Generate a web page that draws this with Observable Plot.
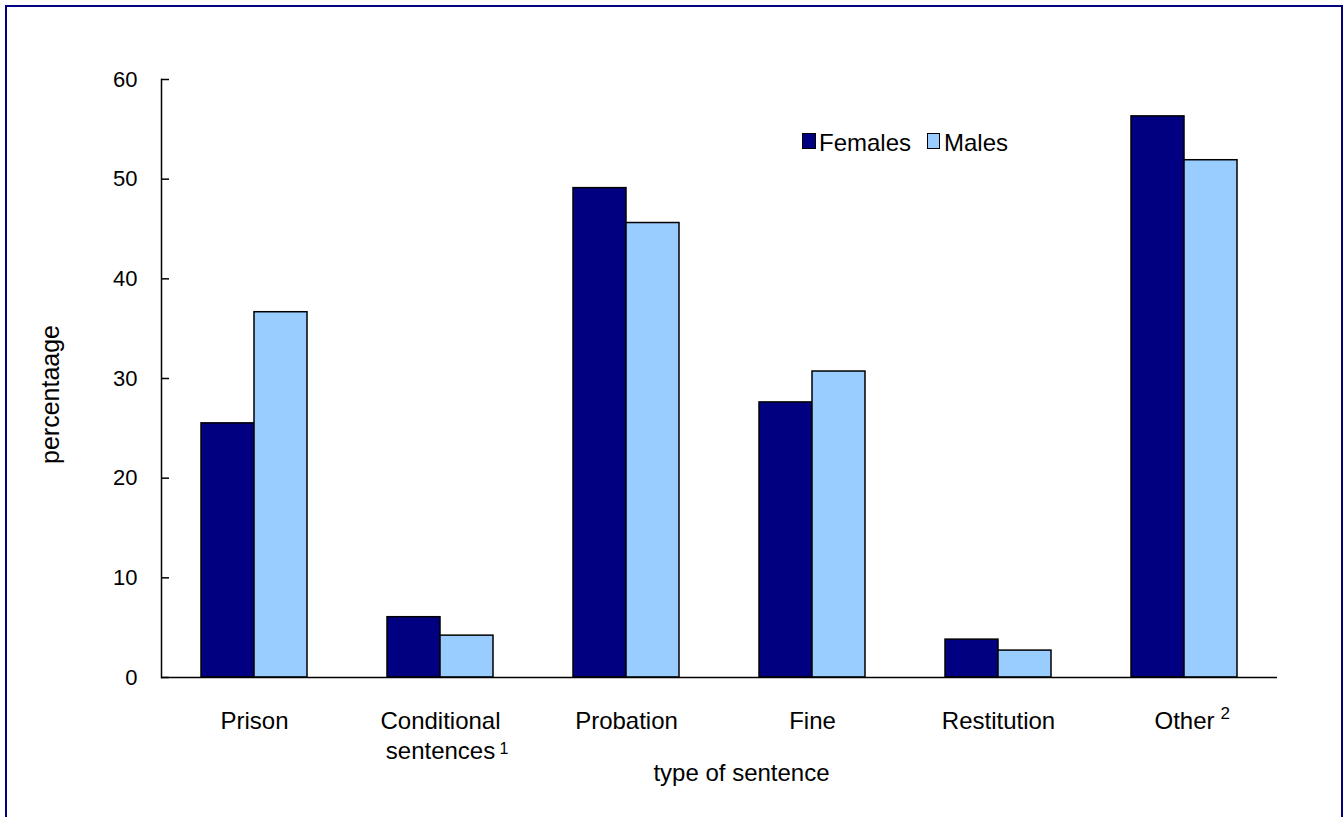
<!DOCTYPE html>
<html>
<head>
<meta charset="utf-8">
<script src="https://cdn.jsdelivr.net/npm/d3@7"></script>
<script src="https://cdn.jsdelivr.net/npm/@observablehq/plot@0.6"></script>
<style>
  html, body { margin: 0; padding: 0; background: #fff; overflow: hidden; }
  #wrap { position: relative; width: 1343px; height: 817px; font-family: "Liberation Sans", Arial, sans-serif; }
  #border { position: absolute; left: 5px; top: 5px; width: 1334px; height: 830px; border: 2px solid #000080; box-sizing: content-box; pointer-events: none; }
  .sw { position: absolute; border: 1.5px solid #000; box-sizing: border-box; }
  .lt { position: absolute; font-size: 24px; line-height: 24px; color: #000; white-space: nowrap; }
</style>
</head>
<body>
<div id="wrap">
  <div id="chart"></div>
  <div id="legend"></div>
  <div id="border"></div>
</div>
<script>
// ---- data ----
const categories = ["Prison", "Conditional sentences", "Probation", "Fine", "Restitution", "Other"];
const labelLine1 = ["Prison", "Conditional", "Probation", "Fine", "Restitution", "Other"];
const labelLine2 = ["", "sentences", "", "", "", ""];
const footnotes = ["", "1", "", "", "", "2"];
const females = [25.5, 6.05, 49.1, 27.6, 3.8, 56.3];
const males = [36.65, 4.2, 45.6, 30.7, 2.7, 51.9];
const series = ["Females", "Males"];
const seriesColors = ["#000080", "#99ccff"];
const yTicks = [0, 10, 20, 30, 40, 50, 60];
const yLabel = "percentaage";
const xLabel = "type of sentence";

const rows = categories.flatMap((c, i) => [
  {category: c, sex: series[0], value: females[i]},
  {category: c, sex: series[1], value: males[i]}
]);
const labels = categories.map((c, i) => ({category: c, line1: labelLine1[i], line2: labelLine2[i], note: footnotes[i]}));

const chart = Plot.plot({
  width: 1343,
  height: 817,
  marginLeft: 160,
  marginRight: 65,
  marginTop: 79,
  marginBottom: 140,
  style: {fontFamily: "'Liberation Sans', Arial, sans-serif", fontSize: "22px", background: "transparent", color: "#000", overflow: "visible"},
  fx: {domain: categories, padding: 0, axis: null},
  x: {domain: series, paddingInner: 0, paddingOuter: 0.741, axis: null},
  y: {domain: [0, 60], axis: null},
  color: {domain: series, range: seriesColors},
  marks: [
    Plot.barY(rows, {fx: "category", x: "sex", y: "value", fill: "sex", stroke: "#000", strokeWidth: 1.5, inset: 0}),
    Plot.ruleY([0], {stroke: "#000", strokeWidth: 1.5}),
    Plot.frame({anchor: "left", facet: "super", stroke: "#000", strokeWidth: 1.5}),
    Plot.axisY({ticks: yTicks, tickSize: -8, tickPadding: 32, fontSize: 22, label: null, stroke: "#000", strokeWidth: 1.5}),
    Plot.text(labels, {fx: "category", text: "line1", frameAnchor: "bottom", lineAnchor: "bottom", dy: 51, fontSize: 24, fill: "#000"}),
    Plot.text(labels, {fx: "category", text: "line2", frameAnchor: "bottom", lineAnchor: "bottom", dy: 81, fontSize: 24, fill: "#000"}),
    Plot.text(labels, {fx: "category", text: "note", filter: d => d.category === categories[1], frameAnchor: "bottom", lineAnchor: "bottom", textAnchor: "start", dx: 59, dy: 76, fontSize: 16, fill: "#000"}),
    Plot.text(labels, {fx: "category", text: "note", filter: d => d.category === categories[5], frameAnchor: "bottom", lineAnchor: "bottom", textAnchor: "start", dx: 36, dy: 41, fontSize: 17, fill: "#000"}),
    Plot.text([xLabel], {facet: "super", text: d => d, frameAnchor: "bottom", lineAnchor: "bottom", dx: 22, dy: 103, fontSize: 24, fill: "#000"}),
    Plot.text([yLabel], {facet: "super", text: d => d, frameAnchor: "left", rotate: -90, textAnchor: "middle", lineAnchor: "middle", dx: -111, dy: 16, fontSize: 25, fill: "#000"})
  ]
});
document.getElementById("chart").appendChild(chart);

// legend
const legend = document.getElementById("legend");
const legendItems = [
  {swLeft: 802, swW: 14, textLeft: 819},
  {swLeft: 927, swW: 13, textLeft: 944}
];
series.forEach((s, i) => {
  const sw = document.createElement("div");
  sw.className = "sw";
  sw.style.left = legendItems[i].swLeft + "px";
  sw.style.top = "133px";
  sw.style.width = legendItems[i].swW + "px";
  sw.style.height = "16px";
  sw.style.background = seriesColors[i];
  legend.appendChild(sw);
  const t = document.createElement("div");
  t.className = "lt";
  t.style.left = legendItems[i].textLeft + "px";
  t.style.top = "131px";
  t.textContent = s;
  legend.appendChild(t);
});
</script>
</body>
</html>
